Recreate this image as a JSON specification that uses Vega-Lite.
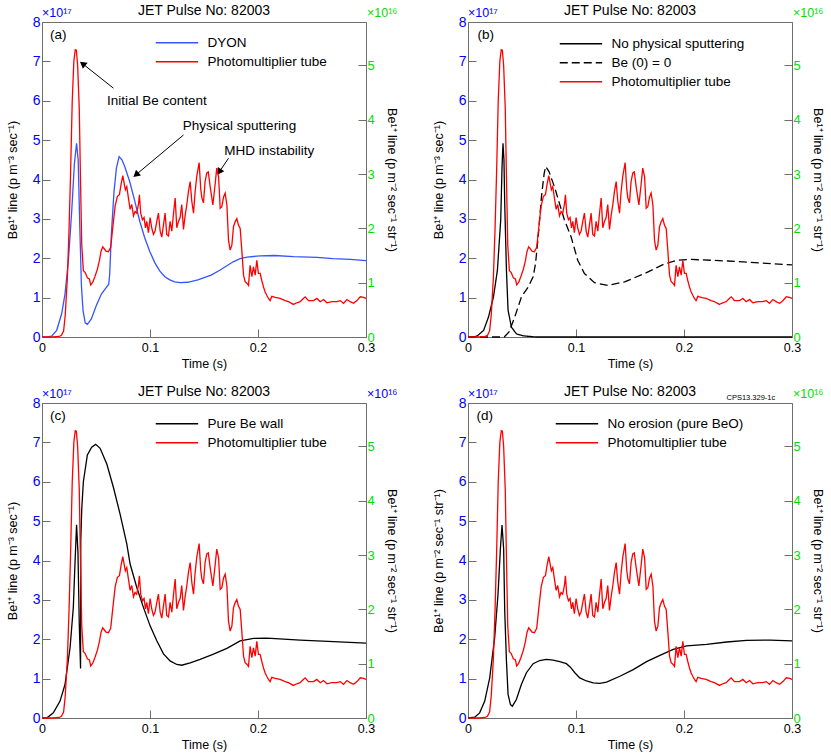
{
"$schema": "https://vega.github.io/schema/vega-lite/v6.json",
"padding": {"left": 5, "top": 3, "right": 0, "bottom": 0},
"config": {
  "font": "Liberation Sans",
  "view": {"stroke": "#6e6e6e"},
  "axis": {"domainColor": "#6e6e6e", "tickColor": "#6e6e6e", "tickSize": -8, "grid": false, "titleFontWeight": "normal", "titleColor": "#000000", "titleFontSize": 12.5, "labelFlush": false, "labelOverlap": false, "tickCount": 12, "format": "~g"},
  "axisLeft": {"labelColor": "#0000ff", "labelFontSize": 14, "labelPadding": 10, "titlePadding": 13, "tickCount": 12, "format": "~g"},
  "axisRight": {"labelColor": "#00dd00", "labelFontSize": 13, "labelPadding": 9, "titlePadding": 10, "tickCount": 12, "format": "~g"},
  "axisBottom": {"labelColor": "#000000", "labelFontSize": 12.5, "labelPadding": 12, "titlePadding": 4, "tickCount": 12, "format": "~g"},
  "legend": {"orient": "none", "symbolSize": 64, "symbolStrokeWidth": 1.3, "labelFontSize": 13.5, "labelOffset": 45, "rowPadding": 4, "padding": 0, "labelColor": "#000000"},
  "line": {"strokeWidth": 1.3}
},
"datasets": {
  "pmt": [{"t":0,"v":0},{"t":0.01,"v":0},{"t":0.016,"v":0.01},{"t":0.018,"v":0.03},{"t":0.02,"v":0.11},{"t":0.0215,"v":0.4},{"t":0.0235,"v":1.09},{"t":0.025,"v":1.96},{"t":0.0265,"v":3.05},{"t":0.028,"v":4.35},{"t":0.0295,"v":5.08},{"t":0.0308,"v":5.29},{"t":0.0318,"v":5.28},{"t":0.033,"v":5.0},{"t":0.0345,"v":4.21},{"t":0.0355,"v":3.05},{"t":0.0368,"v":1.7},{"t":0.0383,"v":1.22},{"t":0.0399,"v":1.19},{"t":0.042,"v":1.09},{"t":0.0439,"v":1.07},{"t":0.0451,"v":0.96},{"t":0.047,"v":1.01},{"t":0.0491,"v":1.12},{"t":0.0513,"v":1.25},{"t":0.0531,"v":1.4},{"t":0.0547,"v":1.58},{"t":0.0562,"v":1.66},{"t":0.0578,"v":1.62},{"t":0.0593,"v":1.58},{"t":0.0615,"v":1.57},{"t":0.0636,"v":1.65},{"t":0.0655,"v":2.01},{"t":0.0677,"v":2.41},{"t":0.0698,"v":2.59},{"t":0.0717,"v":2.62},{"t":0.0732,"v":2.81},{"t":0.0748,"v":2.97},{"t":0.076,"v":2.84},{"t":0.0772,"v":2.71},{"t":0.0785,"v":2.77},{"t":0.08,"v":2.56},{"t":0.0816,"v":2.35},{"t":0.0831,"v":2.44},{"t":0.0847,"v":2.23},{"t":0.0862,"v":2.31},{"t":0.0877,"v":2.28},{"t":0.0893,"v":2.44},{"t":0.0902,"v":2.62},{"t":0.0914,"v":2.28},{"t":0.093,"v":2.16},{"t":0.0945,"v":2.2},{"t":0.0958,"v":2.01},{"t":0.097,"v":2.13},{"t":0.0985,"v":1.92},{"t":0.1001,"v":2.2},{"t":0.1016,"v":2.01},{"t":0.1032,"v":1.89},{"t":0.1047,"v":1.95},{"t":0.1063,"v":2.13},{"t":0.1078,"v":2.28},{"t":0.1094,"v":1.95},{"t":0.1109,"v":1.84},{"t":0.1125,"v":2.07},{"t":0.114,"v":2.28},{"t":0.1155,"v":1.89},{"t":0.1171,"v":1.86},{"t":0.1186,"v":2.13},{"t":0.1202,"v":1.95},{"t":0.1217,"v":2.26},{"t":0.1233,"v":2.56},{"t":0.1248,"v":2.01},{"t":0.1264,"v":2.13},{"t":0.1279,"v":2.2},{"t":0.1294,"v":2.44},{"t":0.131,"v":1.98},{"t":0.1325,"v":2.23},{"t":0.1341,"v":2.44},{"t":0.1356,"v":2.68},{"t":0.1372,"v":2.86},{"t":0.1387,"v":2.5},{"t":0.1403,"v":2.28},{"t":0.1418,"v":2.68},{"t":0.1433,"v":2.96},{"t":0.1455,"v":3.21},{"t":0.147,"v":2.72},{"t":0.148,"v":2.56},{"t":0.1495,"v":2.47},{"t":0.151,"v":2.86},{"t":0.1526,"v":3.02},{"t":0.154,"v":3.04},{"t":0.1557,"v":2.77},{"t":0.1582,"v":2.43},{"t":0.1604,"v":2.83},{"t":0.1618,"v":3.11},{"t":0.1635,"v":2.95},{"t":0.165,"v":2.37},{"t":0.1665,"v":2.4},{"t":0.1681,"v":2.58},{"t":0.1696,"v":2.65},{"t":0.1712,"v":2.43},{"t":0.1727,"v":1.78},{"t":0.1742,"v":1.6},{"t":0.1758,"v":1.69},{"t":0.1773,"v":2.03},{"t":0.1788,"v":2.12},{"t":0.1804,"v":2.18},{"t":0.1819,"v":2.06},{"t":0.1835,"v":2.0},{"t":0.185,"v":1.6},{"t":0.1866,"v":1.14},{"t":0.1881,"v":1.02},{"t":0.1897,"v":0.99},{"t":0.1912,"v":0.95},{"t":0.1927,"v":1.32},{"t":0.1943,"v":1.11},{"t":0.1958,"v":1.29},{"t":0.1974,"v":1.14},{"t":0.1989,"v":1.41},{"t":0.2004,"v":1.17},{"t":0.202,"v":1.17},{"t":0.2035,"v":1.04},{"t":0.2051,"v":0.92},{"t":0.2066,"v":0.83},{"t":0.2081,"v":0.77},{"t":0.2097,"v":0.71},{"t":0.2112,"v":0.67},{"t":0.2128,"v":0.75},{"t":0.2159,"v":0.73},{"t":0.2205,"v":0.71},{"t":0.2251,"v":0.67},{"t":0.2282,"v":0.65},{"t":0.2328,"v":0.6},{"t":0.2359,"v":0.63},{"t":0.239,"v":0.65},{"t":0.242,"v":0.71},{"t":0.2437,"v":0.74},{"t":0.2467,"v":0.67},{"t":0.2514,"v":0.67},{"t":0.2545,"v":0.71},{"t":0.2576,"v":0.65},{"t":0.2607,"v":0.69},{"t":0.2638,"v":0.63},{"t":0.2684,"v":0.65},{"t":0.273,"v":0.65},{"t":0.2761,"v":0.67},{"t":0.2792,"v":0.62},{"t":0.2823,"v":0.69},{"t":0.2854,"v":0.65},{"t":0.2885,"v":0.62},{"t":0.2916,"v":0.67},{"t":0.2947,"v":0.74},{"t":0.2978,"v":0.73},{"t":0.3,"v":0.71}],
  "dyon": [{"t":0,"v":0},{"t":0.005,"v":0},{"t":0.0089,"v":0.02},{"t":0.0136,"v":0.17},{"t":0.0182,"v":0.59},{"t":0.0213,"v":1.09},{"t":0.0244,"v":1.93},{"t":0.0275,"v":3.19},{"t":0.03,"v":4.4},{"t":0.032,"v":4.92},{"t":0.0335,"v":4.5},{"t":0.035,"v":2.8},{"t":0.0365,"v":1.3},{"t":0.038,"v":0.67},{"t":0.04,"v":0.36},{"t":0.042,"v":0.32},{"t":0.0457,"v":0.46},{"t":0.0503,"v":0.8},{"t":0.055,"v":1.09},{"t":0.0596,"v":1.26},{"t":0.0618,"v":1.34},{"t":0.0627,"v":1.6},{"t":0.0642,"v":2.6},{"t":0.0667,"v":3.7},{"t":0.0689,"v":4.29},{"t":0.0714,"v":4.58},{"t":0.074,"v":4.5},{"t":0.0766,"v":4.33},{"t":0.0812,"v":3.95},{"t":0.0859,"v":3.45},{"t":0.0905,"v":2.94},{"t":0.0951,"v":2.52},{"t":0.0997,"v":2.18},{"t":0.1044,"v":1.89},{"t":0.109,"v":1.68},{"t":0.1137,"v":1.53},{"t":0.1183,"v":1.45},{"t":0.1229,"v":1.4},{"t":0.128,"v":1.38},{"t":0.135,"v":1.39},{"t":0.1443,"v":1.45},{"t":0.1566,"v":1.57},{"t":0.165,"v":1.7},{"t":0.177,"v":1.91},{"t":0.1835,"v":1.99},{"t":0.19,"v":2.03},{"t":0.202,"v":2.06},{"t":0.215,"v":2.07},{"t":0.233,"v":2.04},{"t":0.2546,"v":2.02},{"t":0.2695,"v":1.99},{"t":0.2855,"v":1.97},{"t":0.3,"v":1.94}],
  "nosput": [{"t":0,"v":0},{"t":0.005,"v":0},{"t":0.0087,"v":0.03},{"t":0.0145,"v":0.17},{"t":0.019,"v":0.51},{"t":0.0236,"v":1.02},{"t":0.0272,"v":1.69},{"t":0.0303,"v":2.97},{"t":0.0315,"v":4.3},{"t":0.0324,"v":4.92},{"t":0.0333,"v":4.5},{"t":0.034,"v":3.39},{"t":0.0356,"v":1.69},{"t":0.0371,"v":0.68},{"t":0.0402,"v":0.25},{"t":0.0448,"v":0.08},{"t":0.051,"v":0.03},{"t":0.063,"v":0},{"t":0.3,"v":0}],
  "be0": [{"t":0,"v":0},{"t":0.0335,"v":0},{"t":0.038,"v":0.13},{"t":0.0433,"v":0.51},{"t":0.0495,"v":1.02},{"t":0.0557,"v":1.27},{"t":0.0603,"v":1.53},{"t":0.0625,"v":1.86},{"t":0.065,"v":2.54},{"t":0.068,"v":3.56},{"t":0.0705,"v":4.15},{"t":0.072,"v":4.33},{"t":0.075,"v":4.2},{"t":0.0801,"v":3.81},{"t":0.0893,"v":2.97},{"t":0.0955,"v":2.54},{"t":0.1016,"v":1.95},{"t":0.1078,"v":1.61},{"t":0.1171,"v":1.38},{"t":0.1294,"v":1.31},{"t":0.145,"v":1.4},{"t":0.1634,"v":1.61},{"t":0.182,"v":1.86},{"t":0.1943,"v":1.95},{"t":0.2067,"v":1.97},{"t":0.2407,"v":1.93},{"t":0.2716,"v":1.88},{"t":0.3,"v":1.83}],
  "purebe": [{"t":0,"v":0},{"t":0.005,"v":0.01},{"t":0.0105,"v":0.13},{"t":0.0167,"v":0.43},{"t":0.0213,"v":0.85},{"t":0.026,"v":1.79},{"t":0.029,"v":2.81},{"t":0.0305,"v":3.9},{"t":0.032,"v":4.91},{"t":0.0333,"v":4.2},{"t":0.0345,"v":2.4},{"t":0.0357,"v":1.26},{"t":0.0359,"v":4.5},{"t":0.0368,"v":5.3},{"t":0.0383,"v":6.0},{"t":0.042,"v":6.68},{"t":0.046,"v":6.88},{"t":0.0497,"v":6.95},{"t":0.0538,"v":6.85},{"t":0.06,"v":6.45},{"t":0.0661,"v":5.86},{"t":0.0723,"v":5.18},{"t":0.0785,"v":4.42},{"t":0.0816,"v":3.91},{"t":0.0877,"v":3.32},{"t":0.0939,"v":2.81},{"t":0.1001,"v":2.34},{"t":0.1063,"v":1.96},{"t":0.1125,"v":1.63},{"t":0.1186,"v":1.45},{"t":0.1248,"v":1.36},{"t":0.1294,"v":1.34},{"t":0.1372,"v":1.4},{"t":0.1464,"v":1.49},{"t":0.1588,"v":1.62},{"t":0.1712,"v":1.77},{"t":0.1835,"v":1.96},{"t":0.1959,"v":2.02},{"t":0.2082,"v":2.03},{"t":0.2391,"v":1.98},{"t":0.27,"v":1.94},{"t":0.3,"v":1.9}],
  "noerosion": [{"t":0,"v":0},{"t":0.0062,"v":0.02},{"t":0.0108,"v":0.13},{"t":0.0155,"v":0.43},{"t":0.0201,"v":1.02},{"t":0.0247,"v":2.04},{"t":0.0278,"v":3.15},{"t":0.03,"v":4.3},{"t":0.0315,"v":4.9},{"t":0.033,"v":4.3},{"t":0.034,"v":2.72},{"t":0.0356,"v":1.45},{"t":0.0371,"v":0.6},{"t":0.0393,"v":0.34},{"t":0.0411,"v":0.3},{"t":0.0448,"v":0.47},{"t":0.0494,"v":0.85},{"t":0.0541,"v":1.15},{"t":0.0603,"v":1.38},{"t":0.0664,"v":1.46},{"t":0.0726,"v":1.49},{"t":0.0788,"v":1.47},{"t":0.085,"v":1.43},{"t":0.0911,"v":1.38},{"t":0.0948,"v":1.29},{"t":0.0989,"v":1.15},{"t":0.1035,"v":1.02},{"t":0.1097,"v":0.94},{"t":0.1159,"v":0.89},{"t":0.1221,"v":0.88},{"t":0.1283,"v":0.91},{"t":0.1406,"v":1.06},{"t":0.153,"v":1.23},{"t":0.1653,"v":1.43},{"t":0.1777,"v":1.59},{"t":0.19,"v":1.74},{"t":0.2024,"v":1.83},{"t":0.2209,"v":1.87},{"t":0.2395,"v":1.93},{"t":0.258,"v":1.97},{"t":0.2797,"v":1.98},{"t":0.3,"v":1.96}]
},
"spacing": 13,
"resolve": {"scale": {"x": "independent", "y": "independent", "color": "independent", "strokeDash": "independent"}},
"vconcat": [
 {"spacing": 32,
  "resolve": {"scale": {"x": "independent", "y": "independent", "color": "independent", "strokeDash": "independent"}},
  "hconcat": [
  {"width": 324, "height": 315,
   "resolve": {"scale": {"y": "independent"}},
   "layer": [
    {"layer": [
      {"data": {"name": "dyon"}, "mark": {"type": "line"},
       "encoding": {
        "x": {"field": "t", "type": "quantitative", "scale": {"domain": [0, 0.3], "nice": false}, "axis": {"values": [0, 0.1, 0.2, 0.3], "format": "~g", "title": "Time (s)"}},
        "y": {"field": "v", "type": "quantitative", "scale": {"domain": [0, 8], "nice": false}, "axis": {"orient": "left", "values": [0,1,2,3,4,5,6,7,8], "format": "~g", "labelOverlap": false, "title": "Be¹⁺  line (p m⁻³ sec⁻¹)"}},
        "color": {"datum": "DYON", "type": "nominal", "scale": {"domain": ["DYON", "Photomultiplier tube"], "range": ["#3355ff", "#ff0000"]}, "legend": {"title": null, "orient": "none", "legendX": 107, "legendY": 14, "symbolType": "M0,0H10.6"}}
       }},
      {"data": {"values": [{"t": 0.0074, "v": 7.68, "label": "(a)"}, {"t": 0.0602, "v": 6.0, "label": "Initial Be content"}, {"t": 0.1304, "v": 5.36, "label": "Physical sputtering"}, {"t": 0.1687, "v": 4.73, "label": "MHD instability"}]},
       "mark": {"type": "text", "align": "left", "baseline": "middle", "fontSize": 13.5, "color": "#000000"},
       "encoding": {"x": {"field": "t", "type": "quantitative"}, "y": {"field": "v", "type": "quantitative"}, "text": {"field": "label"}}},
      {"data": {"values": [{"t": 0.15, "v": 8, "label": "JET Pulse No: 82003"}]},
       "mark": {"type": "text", "align": "center", "baseline": "alphabetic", "dy": -7, "fontSize": 14, "color": "#000000"},
       "encoding": {"x": {"field": "t", "type": "quantitative"}, "y": {"field": "v", "type": "quantitative"}, "text": {"field": "label"}}},
      {"data": {"values": [{"t": 0, "v": 8, "label": "×10¹⁷"}]},
       "mark": {"type": "text", "align": "left", "baseline": "alphabetic", "dy": -5, "fontSize": 12.5, "color": "#0000ff"},
       "encoding": {"x": {"field": "t", "type": "quantitative"}, "y": {"field": "v", "type": "quantitative"}, "text": {"field": "label"}}},
      {"data": {"values": [{"t": 0.3, "v": 8, "label": "×10¹⁶"}]},
       "mark": {"type": "text", "align": "left", "baseline": "alphabetic", "dy": -5, "dx": 1, "fontSize": 12.5, "color": "#00dd00"},
       "encoding": {"x": {"field": "t", "type": "quantitative"}, "y": {"field": "v", "type": "quantitative"}, "text": {"field": "label"}}},
      {"data": {"values": [{"t": 0.0661, "v": 6.32, "t2": 0.0376, "v2": 6.94}, {"t": 0.131, "v": 5.13, "t2": 0.087, "v2": 4.12}, {"t": 0.1727, "v": 4.54, "t2": 0.1641, "v2": 4.19}]},
       "mark": {"type": "rule", "color": "#000000", "strokeWidth": 1},
       "encoding": {"x": {"field": "t", "type": "quantitative"}, "y": {"field": "v", "type": "quantitative"}, "x2": {"field": "t2"}, "y2": {"field": "v2"}}},
      {"data": {"values": [{"t": 0.0376, "v": 6.94}]},
       "mark": {"type": "point", "shape": "triangle-up", "filled": true, "size": 60, "angle": 308, "color": "#000000", "opacity": 1},
       "encoding": {"x": {"field": "t", "type": "quantitative"}, "y": {"field": "v", "type": "quantitative"}}},
      {"data": {"values": [{"t": 0.087, "v": 4.12}]},
       "mark": {"type": "point", "shape": "triangle-up", "filled": true, "size": 60, "angle": 230, "color": "#000000", "opacity": 1},
       "encoding": {"x": {"field": "t", "type": "quantitative"}, "y": {"field": "v", "type": "quantitative"}}},
      {"data": {"values": [{"t": 0.1641, "v": 4.19}]},
       "mark": {"type": "point", "shape": "triangle-up", "filled": true, "size": 60, "angle": 213, "color": "#000000", "opacity": 1},
       "encoding": {"x": {"field": "t", "type": "quantitative"}, "y": {"field": "v", "type": "quantitative"}}}
    ]},
    {"data": {"name": "pmt"}, "mark": {"type": "line"},
     "encoding": {
      "x": {"field": "t", "type": "quantitative"},
      "y": {"field": "v", "type": "quantitative", "scale": {"domain": [0, 5.8], "nice": false}, "axis": {"orient": "right", "values": [0,1,2,3,4,5], "format": "~g", "title": "Be¹⁺  line (p m⁻² sec⁻¹ str⁻¹)"}},
      "color": {"datum": "Photomultiplier tube", "type": "nominal"}
     }}
   ]},
  {"width": 324, "height": 315,
   "resolve": {"scale": {"y": "independent"}},
   "layer": [
    {"layer": [
      {"data": {"name": "nosput"}, "mark": {"type": "line"},
       "encoding": {
        "x": {"field": "t", "type": "quantitative", "scale": {"domain": [0, 0.3], "nice": false}, "axis": {"values": [0, 0.1, 0.2, 0.3], "format": "~g", "title": "Time (s)"}},
        "y": {"field": "v", "type": "quantitative", "scale": {"domain": [0, 8], "nice": false}, "axis": {"orient": "left", "values": [0,1,2,3,4,5,6,7,8], "format": "~g", "labelOverlap": false, "title": "Be¹⁺  line (p m⁻³ sec⁻¹)"}},
        "color": {"datum": "No physical sputtering", "type": "nominal", "scale": {"domain": ["No physical sputtering", "Be (0) = 0", "Photomultiplier tube"], "range": ["#000000", "#000000", "#ff0000"]}, "legend": {"title": null, "orient": "none", "legendX": 85, "legendY": 15, "symbolType": "M0,0H10.6"}},
        "strokeDash": {"datum": "No physical sputtering", "type": "nominal", "scale": {"domain": ["No physical sputtering", "Be (0) = 0", "Photomultiplier tube"], "range": [[1, 0], [8, 4], [1, 0]]}, "legend": {"title": null, "orient": "none", "legendX": 85, "legendY": 15, "symbolType": "M0,0H10.6"}}
       }},
      {"data": {"name": "be0"}, "mark": {"type": "line"},
       "encoding": {
        "x": {"field": "t", "type": "quantitative"},
        "y": {"field": "v", "type": "quantitative"},
        "color": {"datum": "Be (0) = 0", "type": "nominal"},
        "strokeDash": {"datum": "Be (0) = 0", "type": "nominal"}
       }},
      {"data": {"values": [{"t": 0.0087, "v": 7.68, "label": "(b)"}]},
       "mark": {"type": "text", "align": "left", "baseline": "middle", "fontSize": 13.5, "color": "#000000"},
       "encoding": {"x": {"field": "t", "type": "quantitative"}, "y": {"field": "v", "type": "quantitative"}, "text": {"field": "label"}}},
      {"data": {"values": [{"t": 0.15, "v": 8, "label": "JET Pulse No: 82003"}]},
       "mark": {"type": "text", "align": "center", "baseline": "alphabetic", "dy": -7, "fontSize": 14, "color": "#000000"},
       "encoding": {"x": {"field": "t", "type": "quantitative"}, "y": {"field": "v", "type": "quantitative"}, "text": {"field": "label"}}},
      {"data": {"values": [{"t": 0, "v": 8, "label": "×10¹⁷"}]},
       "mark": {"type": "text", "align": "left", "baseline": "alphabetic", "dy": -5, "fontSize": 12.5, "color": "#0000ff"},
       "encoding": {"x": {"field": "t", "type": "quantitative"}, "y": {"field": "v", "type": "quantitative"}, "text": {"field": "label"}}},
      {"data": {"values": [{"t": 0.3, "v": 8, "label": "×10¹⁶"}]},
       "mark": {"type": "text", "align": "left", "baseline": "alphabetic", "dy": -5, "dx": 1, "fontSize": 12.5, "color": "#00dd00"},
       "encoding": {"x": {"field": "t", "type": "quantitative"}, "y": {"field": "v", "type": "quantitative"}, "text": {"field": "label"}}}
    ]},
    {"data": {"name": "pmt"}, "mark": {"type": "line"},
     "encoding": {
      "x": {"field": "t", "type": "quantitative"},
      "y": {"field": "v", "type": "quantitative", "scale": {"domain": [0, 5.8], "nice": false}, "axis": {"orient": "right", "values": [0,1,2,3,4,5], "format": "~g", "title": "Be¹⁺  line (p m⁻² sec⁻¹ str⁻¹)"}},
      "color": {"datum": "Photomultiplier tube", "type": "nominal"},
      "strokeDash": {"datum": "Photomultiplier tube", "type": "nominal"}
     }}
   ]}
 ]},
 {"spacing": 32,
  "resolve": {"scale": {"x": "independent", "y": "independent", "color": "independent", "strokeDash": "independent"}},
  "hconcat": [
  {"width": 324, "height": 315,
   "resolve": {"scale": {"y": "independent"}},
   "layer": [
    {"layer": [
      {"data": {"name": "purebe"}, "mark": {"type": "line"},
       "encoding": {
        "x": {"field": "t", "type": "quantitative", "scale": {"domain": [0, 0.3], "nice": false}, "axis": {"values": [0, 0.1, 0.2, 0.3], "format": "~g", "title": "Time (s)"}},
        "y": {"field": "v", "type": "quantitative", "scale": {"domain": [0, 8], "nice": false}, "axis": {"orient": "left", "values": [0,1,2,3,4,5,6,7,8], "format": "~g", "labelOverlap": false, "title": "Be¹⁺  line (p m⁻³ sec⁻¹)"}},
        "color": {"datum": "Pure Be wall", "type": "nominal", "scale": {"domain": ["Pure Be wall", "Photomultiplier tube"], "range": ["#000000", "#ff0000"]}, "legend": {"title": null, "orient": "none", "legendX": 107, "legendY": 14, "symbolType": "M0,0H10.6"}}
       }},
      {"data": {"values": [{"t": 0.0074, "v": 7.66, "label": "(c)"}]},
       "mark": {"type": "text", "align": "left", "baseline": "middle", "fontSize": 13.5, "color": "#000000"},
       "encoding": {"x": {"field": "t", "type": "quantitative"}, "y": {"field": "v", "type": "quantitative"}, "text": {"field": "label"}}},
      {"data": {"values": [{"t": 0.15, "v": 8, "label": "JET Pulse No: 82003"}]},
       "mark": {"type": "text", "align": "center", "baseline": "alphabetic", "dy": -7, "fontSize": 14, "color": "#000000"},
       "encoding": {"x": {"field": "t", "type": "quantitative"}, "y": {"field": "v", "type": "quantitative"}, "text": {"field": "label"}}},
      {"data": {"values": [{"t": 0, "v": 8, "label": "×10¹⁷"}]},
       "mark": {"type": "text", "align": "left", "baseline": "alphabetic", "dy": -5, "fontSize": 12.5, "color": "#0000ff"},
       "encoding": {"x": {"field": "t", "type": "quantitative"}, "y": {"field": "v", "type": "quantitative"}, "text": {"field": "label"}}},
      {"data": {"values": [{"t": 0.3, "v": 8, "label": "×10¹⁶"}]},
       "mark": {"type": "text", "align": "left", "baseline": "alphabetic", "dy": -5, "dx": 1, "fontSize": 12.5, "color": "#0000ff"},
       "encoding": {"x": {"field": "t", "type": "quantitative"}, "y": {"field": "v", "type": "quantitative"}, "text": {"field": "label"}}}
    ]},
    {"data": {"name": "pmt"}, "mark": {"type": "line"},
     "encoding": {
      "x": {"field": "t", "type": "quantitative"},
      "y": {"field": "v", "type": "quantitative", "scale": {"domain": [0, 5.8], "nice": false}, "axis": {"orient": "right", "values": [0,1,2,3,4,5], "format": "~g", "title": "Be¹⁺  line (p m⁻² sec⁻¹ str⁻¹)"}},
      "color": {"datum": "Photomultiplier tube", "type": "nominal"}
     }}
   ]},
  {"width": 324, "height": 315,
   "resolve": {"scale": {"y": "independent"}},
   "layer": [
    {"layer": [
      {"data": {"name": "noerosion"}, "mark": {"type": "line"},
       "encoding": {
        "x": {"field": "t", "type": "quantitative", "scale": {"domain": [0, 0.3], "nice": false}, "axis": {"values": [0, 0.1, 0.2, 0.3], "format": "~g", "title": "Time (s)"}},
        "y": {"field": "v", "type": "quantitative", "scale": {"domain": [0, 8], "nice": false}, "axis": {"orient": "left", "values": [0,1,2,3,4,5,6,7,8], "format": "~g", "labelOverlap": false, "title": "Be¹⁺  line (p m⁻² sec⁻¹ str⁻¹)"}},
        "color": {"datum": "No erosion (pure BeO)", "type": "nominal", "scale": {"domain": ["No erosion (pure BeO)", "Photomultiplier tube"], "range": ["#000000", "#ff0000"]}, "legend": {"title": null, "orient": "none", "legendX": 81, "legendY": 14, "symbolType": "M0,0H10.6"}}
       }},
      {"data": {"values": [{"t": 0.0078, "v": 7.66, "label": "(d)"}]},
       "mark": {"type": "text", "align": "left", "baseline": "middle", "fontSize": 13.5, "color": "#000000"},
       "encoding": {"x": {"field": "t", "type": "quantitative"}, "y": {"field": "v", "type": "quantitative"}, "text": {"field": "label"}}},
      {"data": {"values": [{"t": 0.15, "v": 8, "label": "JET Pulse No: 82003"}]},
       "mark": {"type": "text", "align": "center", "baseline": "alphabetic", "dy": -7, "fontSize": 14, "color": "#000000"},
       "encoding": {"x": {"field": "t", "type": "quantitative"}, "y": {"field": "v", "type": "quantitative"}, "text": {"field": "label"}}},
      {"data": {"values": [{"t": 0.2845, "v": 8, "label": "CPS13.329-1c"}]},
       "mark": {"type": "text", "align": "right", "baseline": "alphabetic", "dy": -3, "fontSize": 7.5, "color": "#000000"},
       "encoding": {"x": {"field": "t", "type": "quantitative"}, "y": {"field": "v", "type": "quantitative"}, "text": {"field": "label"}}},
      {"data": {"values": [{"t": 0, "v": 8, "label": "×10¹⁷"}]},
       "mark": {"type": "text", "align": "left", "baseline": "alphabetic", "dy": -5, "fontSize": 12.5, "color": "#0000ff"},
       "encoding": {"x": {"field": "t", "type": "quantitative"}, "y": {"field": "v", "type": "quantitative"}, "text": {"field": "label"}}},
      {"data": {"values": [{"t": 0.3, "v": 8, "label": "×10¹⁶"}]},
       "mark": {"type": "text", "align": "left", "baseline": "alphabetic", "dy": -5, "dx": 1, "fontSize": 12.5, "color": "#00dd00"},
       "encoding": {"x": {"field": "t", "type": "quantitative"}, "y": {"field": "v", "type": "quantitative"}, "text": {"field": "label"}}}
    ]},
    {"data": {"name": "pmt"}, "mark": {"type": "line"},
     "encoding": {
      "x": {"field": "t", "type": "quantitative"},
      "y": {"field": "v", "type": "quantitative", "scale": {"domain": [0, 5.8], "nice": false}, "axis": {"orient": "right", "values": [0,1,2,3,4,5], "format": "~g", "title": "Be¹⁺  line (p m⁻² sec⁻¹ str⁻¹)"}},
      "color": {"datum": "Photomultiplier tube", "type": "nominal"}
     }}
   ]}
 ]}
]
}
